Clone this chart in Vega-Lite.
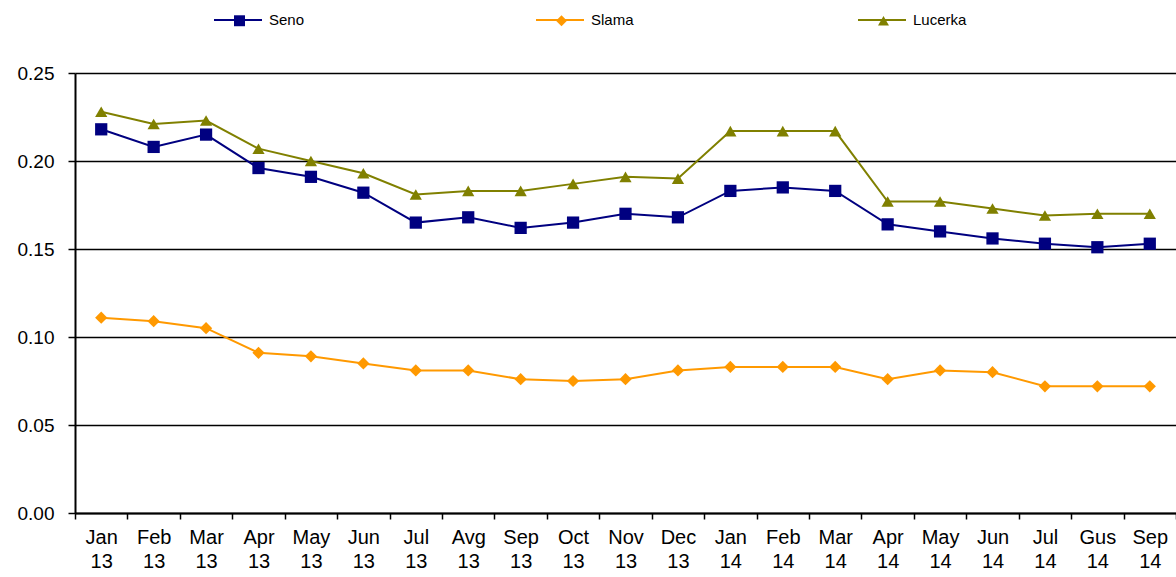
{
  "$schema": "https://vega.github.io/schema/vega-lite/v6.json",
  "width": 1101,
  "height": 440,
  "autosize": {"type": "none"},
  "padding": {"left": 75, "top": 73, "right": 0, "bottom": 64},
  "background": "white",
  "config": {"font": "Liberation Sans", "view": {"stroke": null}},
  "data": {"values": [
    {"month": "Jan 13", "series": "Seno", "value": 0.218},
    {"month": "Feb 13", "series": "Seno", "value": 0.208},
    {"month": "Mar 13", "series": "Seno", "value": 0.215},
    {"month": "Apr 13", "series": "Seno", "value": 0.196},
    {"month": "May 13", "series": "Seno", "value": 0.191},
    {"month": "Jun 13", "series": "Seno", "value": 0.182},
    {"month": "Jul 13", "series": "Seno", "value": 0.165},
    {"month": "Avg 13", "series": "Seno", "value": 0.168},
    {"month": "Sep 13", "series": "Seno", "value": 0.162},
    {"month": "Oct 13", "series": "Seno", "value": 0.165},
    {"month": "Nov 13", "series": "Seno", "value": 0.170},
    {"month": "Dec 13", "series": "Seno", "value": 0.168},
    {"month": "Jan 14", "series": "Seno", "value": 0.183},
    {"month": "Feb 14", "series": "Seno", "value": 0.185},
    {"month": "Mar 14", "series": "Seno", "value": 0.183},
    {"month": "Apr 14", "series": "Seno", "value": 0.164},
    {"month": "May 14", "series": "Seno", "value": 0.160},
    {"month": "Jun 14", "series": "Seno", "value": 0.156},
    {"month": "Jul 14", "series": "Seno", "value": 0.153},
    {"month": "Gus 14", "series": "Seno", "value": 0.151},
    {"month": "Sep 14", "series": "Seno", "value": 0.153},
    {"month": "Jan 13", "series": "Slama", "value": 0.111},
    {"month": "Feb 13", "series": "Slama", "value": 0.109},
    {"month": "Mar 13", "series": "Slama", "value": 0.105},
    {"month": "Apr 13", "series": "Slama", "value": 0.091},
    {"month": "May 13", "series": "Slama", "value": 0.089},
    {"month": "Jun 13", "series": "Slama", "value": 0.085},
    {"month": "Jul 13", "series": "Slama", "value": 0.081},
    {"month": "Avg 13", "series": "Slama", "value": 0.081},
    {"month": "Sep 13", "series": "Slama", "value": 0.076},
    {"month": "Oct 13", "series": "Slama", "value": 0.075},
    {"month": "Nov 13", "series": "Slama", "value": 0.076},
    {"month": "Dec 13", "series": "Slama", "value": 0.081},
    {"month": "Jan 14", "series": "Slama", "value": 0.083},
    {"month": "Feb 14", "series": "Slama", "value": 0.083},
    {"month": "Mar 14", "series": "Slama", "value": 0.083},
    {"month": "Apr 14", "series": "Slama", "value": 0.076},
    {"month": "May 14", "series": "Slama", "value": 0.081},
    {"month": "Jun 14", "series": "Slama", "value": 0.080},
    {"month": "Jul 14", "series": "Slama", "value": 0.072},
    {"month": "Gus 14", "series": "Slama", "value": 0.072},
    {"month": "Sep 14", "series": "Slama", "value": 0.072},
    {"month": "Jan 13", "series": "Lucerka", "value": 0.228},
    {"month": "Feb 13", "series": "Lucerka", "value": 0.221},
    {"month": "Mar 13", "series": "Lucerka", "value": 0.223},
    {"month": "Apr 13", "series": "Lucerka", "value": 0.207},
    {"month": "May 13", "series": "Lucerka", "value": 0.200},
    {"month": "Jun 13", "series": "Lucerka", "value": 0.193},
    {"month": "Jul 13", "series": "Lucerka", "value": 0.181},
    {"month": "Avg 13", "series": "Lucerka", "value": 0.183},
    {"month": "Sep 13", "series": "Lucerka", "value": 0.183},
    {"month": "Oct 13", "series": "Lucerka", "value": 0.187},
    {"month": "Nov 13", "series": "Lucerka", "value": 0.191},
    {"month": "Dec 13", "series": "Lucerka", "value": 0.190},
    {"month": "Jan 14", "series": "Lucerka", "value": 0.217},
    {"month": "Feb 14", "series": "Lucerka", "value": 0.217},
    {"month": "Mar 14", "series": "Lucerka", "value": 0.217},
    {"month": "Apr 14", "series": "Lucerka", "value": 0.177},
    {"month": "May 14", "series": "Lucerka", "value": 0.177},
    {"month": "Jun 14", "series": "Lucerka", "value": 0.173},
    {"month": "Jul 14", "series": "Lucerka", "value": 0.169},
    {"month": "Gus 14", "series": "Lucerka", "value": 0.170},
    {"month": "Sep 14", "series": "Lucerka", "value": 0.170}
  ]},
  "encoding": {
    "x": {
      "field": "month", "type": "nominal", "sort": null,
      "scale": {"type": "band", "paddingInner": 0, "paddingOuter": 0},
      "axis": {
        "title": null, "labelAngle": 0, "tickBand": "extent",
        "labelExpr": "split(datum.label, ' ')",
        "labelFontSize": 20, "labelLineHeight": 24, "labelColor": "black",
        "labelPadding": 8, "tickColor": "black", "tickSize": 6, "tickWidth": 1.5,
        "domainColor": "black", "domainWidth": 2, "grid": false
      }
    },
    "y": {
      "field": "value", "type": "quantitative",
      "scale": {"domain": [0, 0.25], "nice": false},
      "axis": {
        "title": null, "values": [0, 0.05, 0.1, 0.15, 0.2, 0.25], "format": ".2f",
        "labelFontSize": 19, "labelColor": "black", "labelPadding": 14,
        "tickSize": 7, "tickColor": "black", "tickWidth": 1.5,
        "domainColor": "black", "domainWidth": 2,
        "grid": true, "gridColor": "black", "gridWidth": 1.5, "gridOpacity": 1
      }
    }
  },
  "layer": [
    {
      "mark": {"type": "line", "strokeWidth": 2},
      "encoding": {
        "color": {
          "field": "series", "type": "nominal",
          "scale": {"domain": ["Seno", "Slama", "Lucerka"], "range": ["#000080", "#FF9900", "#808000"]},
          "legend": {
            "title": null, "orient": "none", "legendX": 138, "legendY": -78,
            "direction": "horizontal", "columnPadding": 209, "gridAlign": "all", "padding": 0,
            "symbolType": "stroke", "symbolSize": 2304, "symbolStrokeWidth": 2,
            "labelFontSize": 15, "labelOffset": 6, "labelColor": "black"
          }
        }
      }
    },
    {
      "mark": {"type": "point", "filled": true, "opacity": 1, "size": 150},
      "encoding": {
        "fill": {
          "field": "series", "type": "nominal", "sort": null,
          "scale": {"range": ["#000080", "#FF9900", "#808000"]},
          "legend": {
            "title": null, "orient": "none", "legendX": 157, "legendY": -60,
            "direction": "horizontal", "columnPadding": 307, "gridAlign": "all", "padding": 0,
            "symbolSize": 120, "symbolStrokeWidth": 0, "symbolOpacity": 1,
            "labelFontSize": 15, "labelOffset": 0, "labelExpr": "''"
          }
        },
        "shape": {
          "field": "series", "type": "nominal", "sort": null,
          "scale": {"range": ["square", "diamond", "triangle-up"]},
          "legend": {
            "title": null, "orient": "none", "legendX": 157, "legendY": -60,
            "direction": "horizontal", "columnPadding": 307, "gridAlign": "all", "padding": 0,
            "symbolSize": 120, "symbolStrokeWidth": 0, "symbolOpacity": 1,
            "labelFontSize": 15, "labelOffset": 0, "labelExpr": "''"
          }
        }
      }
    }
  ]
}
